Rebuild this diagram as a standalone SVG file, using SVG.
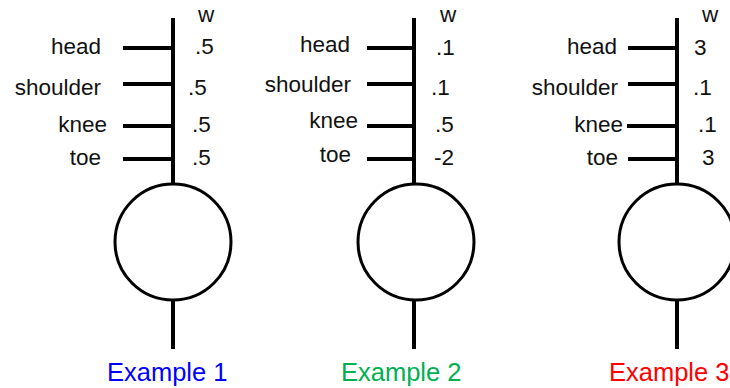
<svg xmlns="http://www.w3.org/2000/svg" width="730" height="388" viewBox="0 0 730 388">
<style>
.ln{stroke:#000;stroke-width:4;fill:none}
.cir{stroke:#000;stroke-width:3;fill:#fff}
text{font-family:"Liberation Sans",Arial,sans-serif;font-size:22.5px;fill:#111}
.lab{text-anchor:end}
.ex{font-size:25.5px}
</style>
<rect width="730" height="388" fill="#fff"/>
<g id="connectors">
<path class="ln" d="M173 18V184M123 48H173M123 84H173M123 126H173M123 159H173M173 300V349"/>
<path class="ln" d="M414 18V184M367 48H414M367 84H414M367 126H414M367 159H414M414 300V349"/>
<path class="ln" d="M677 18V184M628 48H677M628 84H677M627 126H677M628 159H677M677 300V349"/>
</g>
<g id="example1">
<circle class="cir" cx="173" cy="242" r="58"/>
<text class="lab" x="101" y="54">head</text>
<text class="lab" x="101" y="95">shoulder</text>
<text class="lab" x="107" y="132">knee</text>
<text class="lab" x="101" y="165">toe</text>
<text x="198" y="22">w</text>
<text x="195" y="54">.5</text>
<text x="188" y="95">.5</text>
<text x="192" y="132">.5</text>
<text x="192" y="165">.5</text>
<text class="ex" x="107" y="381" style="fill:#0000ff">Example 1</text>
</g>
<g id="example2">
<circle class="cir" cx="416" cy="242" r="58"/>
<text class="lab" x="350" y="52">head</text>
<text class="lab" x="351" y="92">shoulder</text>
<text class="lab" x="358" y="128">knee</text>
<text class="lab" x="351" y="162">toe</text>
<text x="440" y="22">w</text>
<text x="436" y="55">.1</text>
<text x="431" y="95">.1</text>
<text x="435" y="132">.5</text>
<text x="434" y="165">-2</text>
<text class="ex" x="341" y="381" style="fill:#00b050">Example 2</text>
</g>
<g id="example3">
<circle class="cir" cx="677" cy="242" r="58"/>
<text class="lab" x="617" y="54">head</text>
<text class="lab" x="618" y="95">shoulder</text>
<text class="lab" x="623" y="132">knee</text>
<text class="lab" x="618" y="165">toe</text>
<text x="702" y="22">w</text>
<text x="694" y="55">3</text>
<text x="693" y="95">.1</text>
<text x="698" y="132">.1</text>
<text x="702" y="165">3</text>
<text class="ex" x="609" y="381" style="fill:#ff0000">Example 3</text>
</g>
</svg>
